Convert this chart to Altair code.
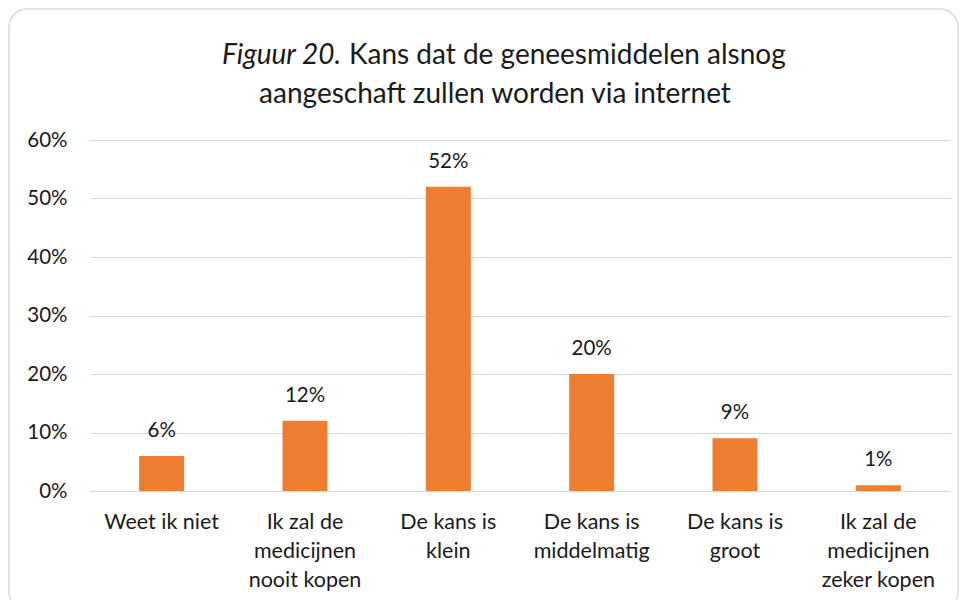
import altair as alt
import pandas as pd

categories = [
    "Weet ik niet",
    "Ik zal de\nmedicijnen\nnooit kopen",
    "De kans is\nklein",
    "De kans is\nmiddelmatig",
    "De kans is\ngroot",
    "Ik zal de\nmedicijnen\nzeker kopen",
]
values = [0.06, 0.12, 0.52, 0.20, 0.09, 0.01]
y_ticks = [0, 0.1, 0.2, 0.3, 0.4, 0.5, 0.6]
title_italic = "Figuur 20."
title_line1 = "Kans dat de geneesmiddelen alsnog"
title_line2 = "aangeschaft zullen worden via internet"

FONT = "Lato"
ORANGE = "#ED7D31"
GRID = "#d9d9d9"
TXT = "#1a1a1a"

df = pd.DataFrame({"cat": categories, "val": values})

W, H = 860, 351

x_enc = alt.X(
    "cat:N",
    sort=categories,
    scale=alt.Scale(paddingInner=0.686, paddingOuter=0.343),
    axis=alt.Axis(
        title=None,
        labelAngle=0,
        labelExpr="split(datum.label, '\\n')",
        labelFont=FONT,
        labelFontSize=21.5,
        labelColor=TXT,
        labelLineHeight=29,
        labelPadding=20,
        labelBaseline="top",
        ticks=False,
        domainColor=GRID,
        domainWidth=1,
        grid=False,
        labelLimit=300,
    ),
)
y_enc = alt.Y(
    "val:Q",
    scale=alt.Scale(domain=[0, 0.6], nice=False),
    axis=alt.Axis(
        title=None,
        values=y_ticks,
        format=".0%",
        labelFont=FONT,
        labelFontSize=20.5,
        labelColor=TXT,
        labelPadding=23,
        ticks=False,
        domain=False,
        grid=True,
        gridColor=GRID,
        gridWidth=1,
    ),
)

bars = alt.Chart(df).mark_bar(color=ORANGE).encode(x=x_enc, y=y_enc)
labels = alt.Chart(df).mark_text(
    font=FONT, fontSize=20.5, color=TXT, baseline="middle", dy=-25
).encode(x=alt.X("cat:N", sort=categories), y="val:Q", text=alt.Text("val:Q", format=".0%"))

one = alt.Data(values=[{"a": 1}])
title1a = alt.Chart(one).mark_text(
    font=FONT, fontSize=28, fontStyle="italic", align="right", baseline="middle", color=TXT
).encode(x=alt.value(251), y=alt.value(-84), text=alt.value(title_italic))
title1b = alt.Chart(one).mark_text(
    font=FONT, fontSize=28, align="left", baseline="middle", color=TXT
).encode(x=alt.value(259), y=alt.value(-84), text=alt.value(title_line1))
title2 = alt.Chart(one).mark_text(
    font=FONT, fontSize=28, align="center", baseline="middle", color=TXT
).encode(x=alt.value(405), y=alt.value(-45), text=alt.value(title_line2))
border = alt.Chart(one).mark_rect(
    fill=None, stroke=GRID, strokeWidth=1.5, cornerRadius=18
).encode(x=alt.value(-81), x2=alt.value(868), y=alt.value(-131), y2=alt.value(470))

chart = (
    alt.layer(border, bars, labels, title1a, title1b, title2)
    .properties(
        width=W,
        height=H,
        autosize=alt.AutoSizeParams(type="none"),
        padding={"left": 82, "top": 132, "right": 9, "bottom": 109},
        background="white",
    )
    .configure_view(stroke=None)
)

chart.save("out.html", embed_options={"renderer": "svg", "actions": False})
